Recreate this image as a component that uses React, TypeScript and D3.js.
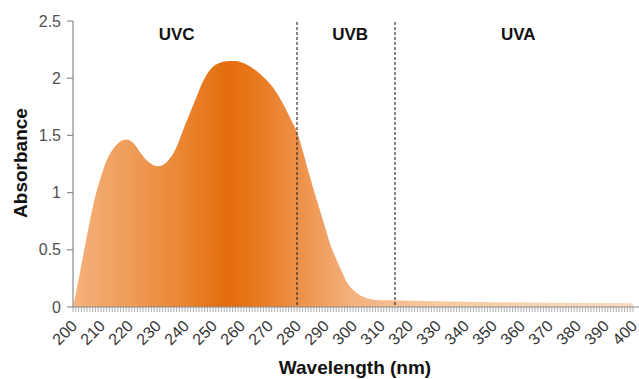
import React from "react";
import * as d3 from "d3";

const wavelengths = [200,202,204,206,208,210,212,214,216,218,219,220,222,224,226,228,230,232,234,236,238,240,242,244,246,248,250,252,254,256,258,260,262,264,266,268,270,272,274,276,278,280,282,284,286,288,290,292,294,296,298,300,302,304,306,308,310,315,320,330,340,350,360,370,380,390,400];
const absorbance = [0,0.24,0.5,0.75,0.97,1.14,1.28,1.37,1.43,1.46,1.465,1.46,1.42,1.35,1.29,1.25,1.23,1.24,1.28,1.35,1.46,1.59,1.71,1.83,1.95,2.04,2.1,2.13,2.145,2.15,2.15,2.14,2.12,2.09,2.055,2.01,1.96,1.9,1.82,1.73,1.63,1.53,1.37,1.19,1.02,0.86,0.7,0.54,0.42,0.31,0.21,0.15,0.11,0.085,0.07,0.063,0.06,0.058,0.055,0.05,0.046,0.042,0.04,0.038,0.036,0.034,0.032];
const yTicks = [0,0.5,1,1.5,2,2.5];
const yTickLabels = ["0","0.5","1","1.5","2","2.5"];
const xTicks = d3.range(200, 401, 10);
const minorTicks = d3.range(200, 401, 1);
const bandEdges = [280, 315];
const bands = [
  { name: "UVC", center: 237 },
  { name: "UVB", center: 299 },
  { name: "UVA", center: 359 },
];
const gradStops = [
  { w: 200, c: "#f4b27c" },
  { w: 215, c: "#f0a262" },
  { w: 240, c: "#ea8530" },
  { w: 255, c: "#e46c0c" },
  { w: 263, c: "#e77618" },
  { w: 280, c: "#ed9048" },
  { w: 300, c: "#f3b27e" },
  { w: 330, c: "#f7caa0" },
  { w: 400, c: "#fbdcc0" },
];

export default function App() {
  const W = 639, H = 379;
  const x = d3.scaleLinear().domain([200, 400]).range([73, 633]);
  const y = d3.scaleLinear().domain([0, 2.5]).range([307, 21]);
  const data = wavelengths.map((w, i) => [w, absorbance[i]] as [number, number]);
  const area = d3.area<[number, number]>()
    .x(d => x(d[0]))
    .y0(y(0))
    .y1(d => y(d[1]))
    .curve(d3.curveMonotoneX);
  const font = "'Liberation Sans', Arial, sans-serif";
  return (
    <svg width={W} height={H} style={{ position: "absolute", left: 0, top: 0, background: "#fff" }} fontFamily={font}>
      <defs>
        <linearGradient id="g" gradientUnits="userSpaceOnUse" x1={x(200)} x2={x(400)} y1={0} y2={0}>
          {gradStops.map((s, i) => (
            <stop key={i} offset={(s.w - 200) / 200} stopColor={s.c} />
          ))}
        </linearGradient>
      </defs>
      <path d={area(data) || ""} fill="url(#g)" />
      {/* y axis */}
      <line x1={73} x2={73} y1={y(2.5)} y2={y(0)} stroke="#8a8a8a" strokeWidth={1.2} />
      {yTicks.map((t, i) => (
        <g key={t}>
          <line x1={67} x2={73} y1={y(t)} y2={y(t)} stroke="#8a8a8a" strokeWidth={1.2} />
          <text x={61} y={y(t)} dy="0.35em" textAnchor="end" fontSize={16} fill="#505050">{yTickLabels[i]}</text>
        </g>
      ))}
      {/* x axis */}
      {minorTicks.map(t => (
        <line key={t} x1={x(t)} x2={x(t)} y1={y(0)} y2={y(0) + 5} stroke="#999" strokeWidth={0.8} />
      ))}
      <line x1={73} x2={639} y1={y(0)} y2={y(0)} stroke="#8a8a8a" strokeWidth={1.2} />
      {xTicks.map(t => (
        <text key={t} transform={`translate(${x(t) + 5},${y(0) + 20}) rotate(-45)`} textAnchor="end" fontSize={16} fill="#333">{t}</text>
      ))}
      {/* band dividers */}
      {bandEdges.map(b => (
        <line key={b} x1={x(b)} x2={x(b)} y1={22} y2={y(0)} stroke="#333" strokeWidth={1.2} strokeDasharray="3,2" />
      ))}
      {bands.map(b => (
        <text key={b.name} x={x(b.center)} y={40} textAnchor="middle" fontSize={17} fontWeight="bold" fill="#111">{b.name}</text>
      ))}
      <text transform="translate(27,163) rotate(-90)" textAnchor="middle" fontSize={19} fontWeight="bold" fill="#111">Absorbance</text>
      <text x={355} y={374} textAnchor="middle" fontSize={19} fontWeight="bold" fill="#111">Wavelength (nm)</text>
    </svg>
  );
}
